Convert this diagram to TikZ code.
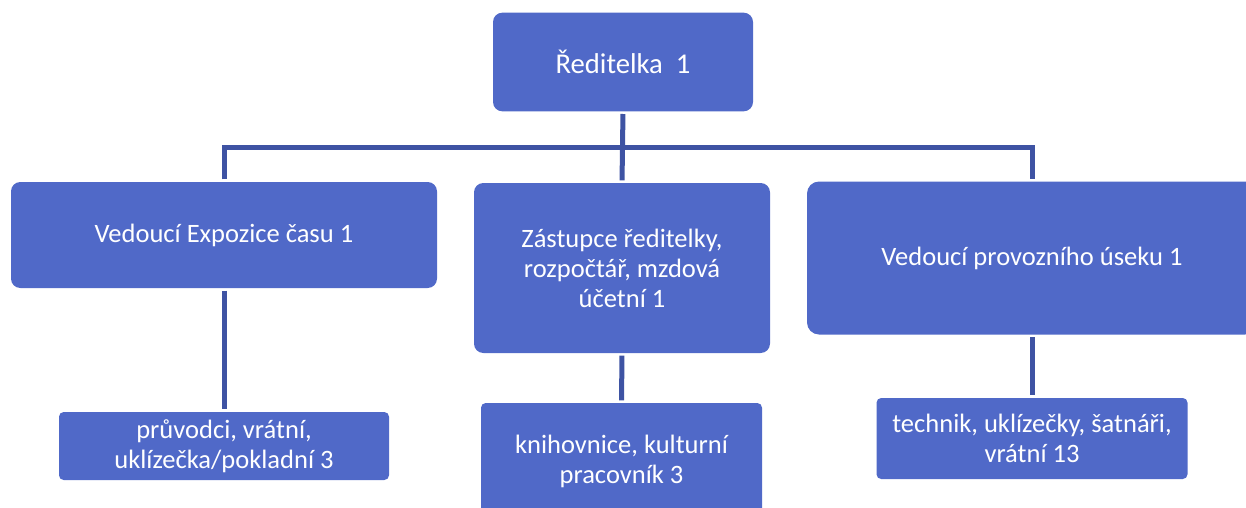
\documentclass[tikz,border=0pt]{standalone}
\usepackage{fontspec}
\setmainfont{Carlito}
\usepackage{tikz}
\definecolor{boxblue}{RGB}{80,105,200}
\definecolor{linkblue}{RGB}{62,83,163}

\begin{document}
\begin{tikzpicture}[x=0.75pt,y=-0.75pt,
  box/.style={rectangle,rounded corners=7pt,fill=boxblue,text=white,align=center,inner sep=0pt,outer sep=0pt,font=\fontsize{19.9}{22.5}\selectfont},
  smallbox/.style={box,rounded corners=3.5pt},
  link/.style={draw=linkblue,line width=3.75pt,shorten <=2pt,shorten >=2pt}]
\useasboundingbox (0,0) rectangle (1246,507);
%top
\node[box,font=\fontsize{21.5}{24}\selectfont,minimum width=195pt,minimum height=74pt] (top) at (623,62) {Ředitelka~~1};
%middle row
\node[box,minimum width=319.5pt,minimum height=79.5pt] (lead1) at (224,235) {Vedoucí Expozice času 1};
\node[box,minimum width=222pt,minimum height=127.5pt] (lead2) at (622,268) {Zástupce ředitelky,\\ rozpočtář, mzdová\\ účetní 1};
\node[box,rounded corners=9pt,minimum width=337.5pt,minimum height=114.75pt] (lead3) at (1032,258) {Vedoucí provozního úseku 1};
%bottom row
\node[smallbox,minimum width=247.5pt,minimum height=51pt] (staff1) at (224,446) {průvodci, vrátní,\\ uklízečka/pokladní 3};
\node[smallbox,minimum width=210.75pt,minimum height=87pt] (staff2) at (621.5,461) {knihovnice, kulturní\\ pracovník 3};
\node[smallbox,minimum width=233.25pt,minimum height=60.75pt] (staff3) at (1032,438.5) {technik, uklízečky, šatnáři,\\ vrátní 13};
%links
\coordinate (bus) at (623,147);
\draw[link] (top.south) -- (lead2.north);
\draw[link] (lead1.north) |- (bus) -| (lead3.north);
\draw[link] (lead1.south) -- (staff1.north);
\draw[link] (lead2.south) -- (staff2.north);
\draw[link] (lead3.south) -- (staff3.north);
\end{tikzpicture}
\end{document}
